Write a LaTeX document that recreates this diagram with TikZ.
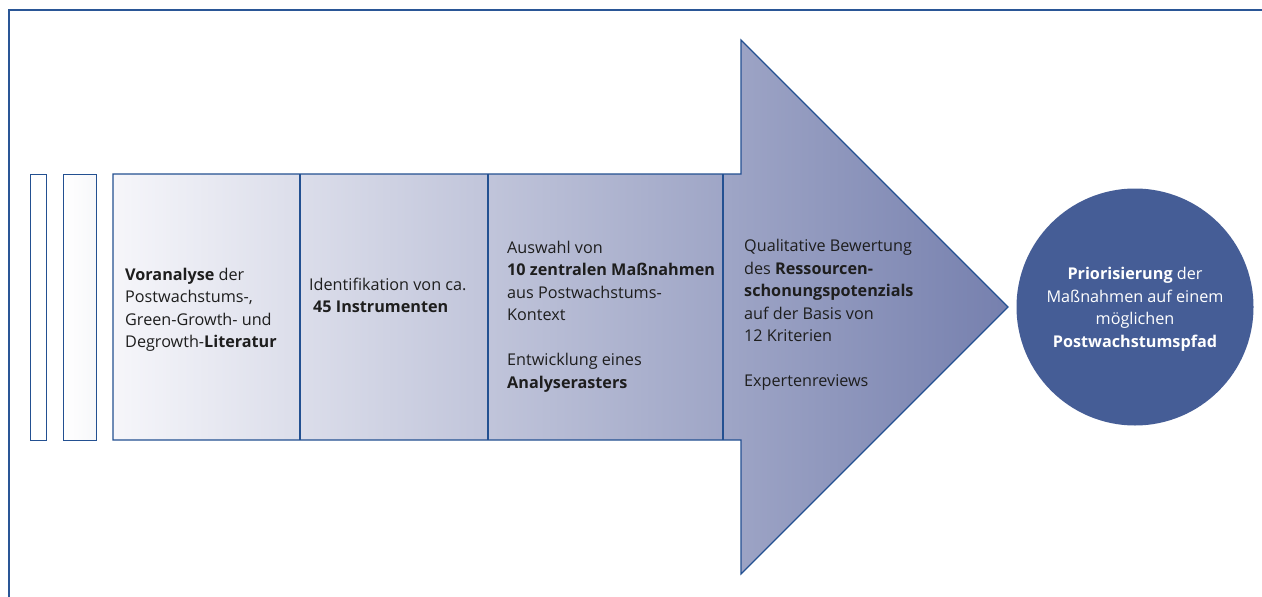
\documentclass[tikz,border=0pt]{standalone}
\usepackage{fontspec}
\setmainfont{Open Sans}
\definecolor{frameblue}{RGB}{42,86,150}
\definecolor{edgeblue}{RGB}{35,80,145}
\definecolor{gleft}{RGB}{246,246,250}
\definecolor{gright}{RGB}{118,128,174}
\definecolor{circblue}{RGB}{69,93,150}
\definecolor{txtgray}{RGB}{30,30,30}
\begin{document}
\begin{tikzpicture}[x=1pt,y=-1pt,
  txt/.style={anchor=west,align=left,inner sep=0,text=txtgray,font=\fontsize{16.2}{22.5}\selectfont},
  slim/.style={draw=edgeblue,line width=1.2,inner sep=0,anchor=north west,minimum height=266},
  divider/.style={draw=edgeblue,line width=1.2}]
\useasboundingbox (0,0) rectangle (1262,597);
\draw[frameblue,line width=2] (9,597) -- (9,10) -- (1262,10);
% small bars
\node[slim,minimum width=16,fill=white] (bar1) at (30,174) {};
\node[slim,minimum width=33,left color=white,right color=gleft!85!gright!30] (bar2) at (63,174) {};
% big arrow
\coordinate (sTL) at (113,174);
\coordinate (sBL) at (113,440);
\coordinate (hTop) at (741,40);
\coordinate (hBot) at (741,574);
\coordinate (tip) at (1008,307);
\path[left color=gleft,right color=gright] (sTL) -- (741,174) -- (hTop) -- (tip) -- (hBot) -- (741,440) -- (sBL) -- cycle;
\draw[edgeblue,line width=1.2,line join=miter] (sTL) -- (741,174) -- (hTop) -- (tip) -- (hBot) -- (741,440) -- (sBL) -- cycle;
\coordinate (d1t) at (300,174); \coordinate (d1b) at (300,440);
\coordinate (d2t) at (488,174); \coordinate (d2b) at (488,440);
\coordinate (d3t) at (723,174); \coordinate (d3b) at (723,440);
\draw[divider] (d1t) -- (d1b);
\draw[divider] (d2t) -- (d2b);
\draw[divider] (d3t) -- (d3b);
% texts
\node[txt] (t1) at (125,310) {\textbf{Voranalyse} der\\Postwachstums-,\\Green-Growth- und\\Degrowth-\textbf{Literatur}};
\node[txt] (t2) at (309,295.5) {Identifikation von ca.\\\hspace{4pt}\textbf{45 Instrumenten}};
\node[txt] (t3) at (507,316.5) {Auswahl von\\\textbf{10 zentralen Maßnahmen}\\aus Postwachstums-\\Kontext\\[22.5pt]Entwicklung eines\\\textbf{Analyserasters}};
\node[txt] (t4) at (744,315) {Qualitative Bewertung\\des \textbf{Ressourcen-}\\\textbf{schonungspotenzials}\\auf der Basis von\\12 Kriterien\\[22.5pt]Expertenreviews};
% circle
\node[circle,fill=circblue,minimum size=237,inner sep=0] (goal) at (1135,307) {};
\node[align=center,inner sep=0,text=white,font=\fontsize{16.2}{22.5}\selectfont] (goaltxt) at ([yshift=-2.5pt]goal.center) {\textbf{Priorisierung} der\\Maßnahmen auf einem\\möglichen\\\textbf{Postwachstumspfad}};
\end{tikzpicture}
\end{document}
